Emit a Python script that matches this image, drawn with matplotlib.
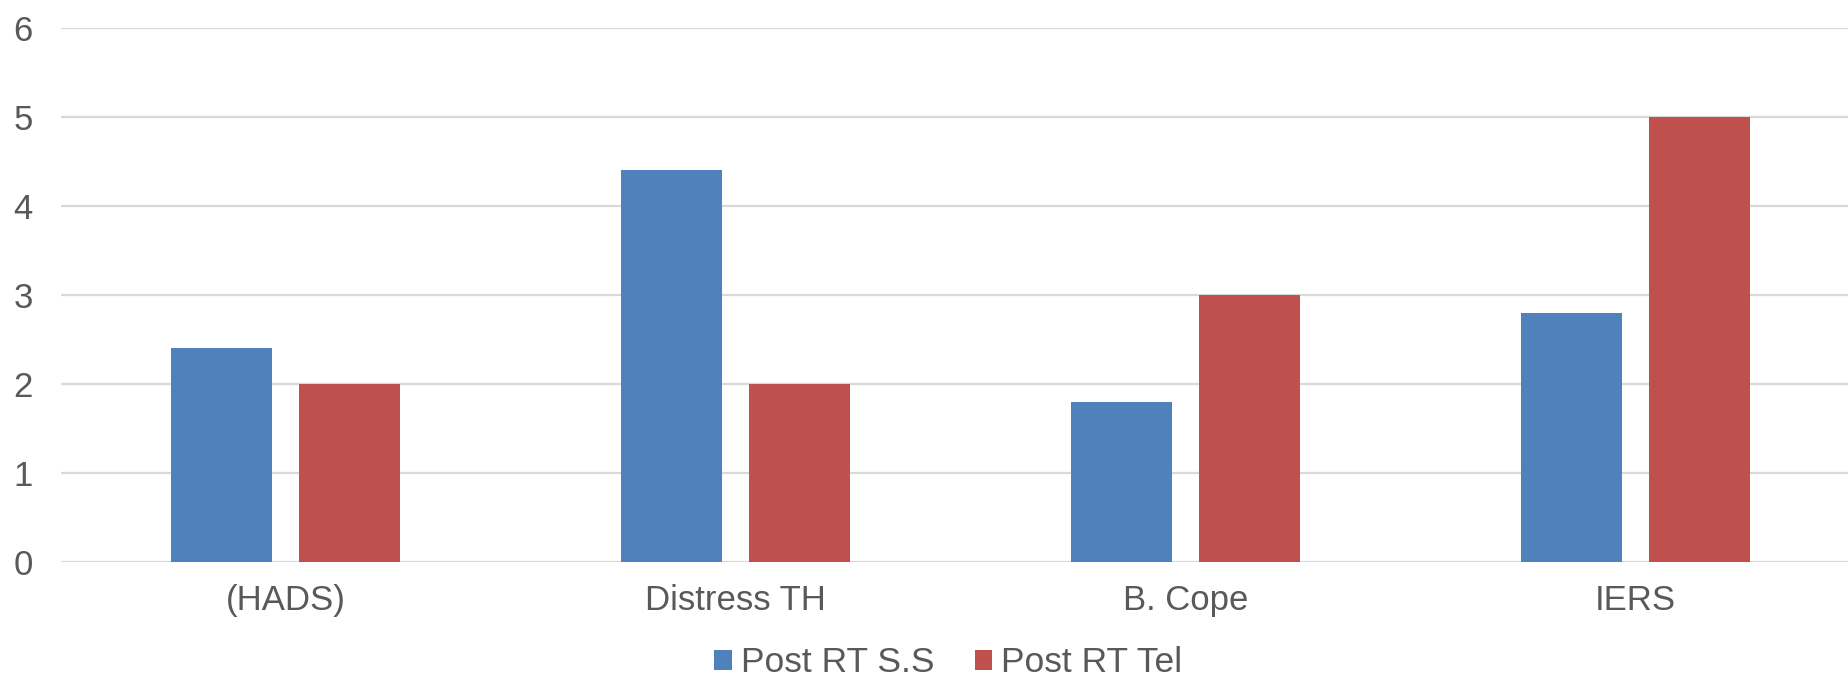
import numpy as np
import matplotlib.pyplot as plt

# Data
categories = ["(HADS)", "Distress TH", "B. Cope", "IERS"]
post_rt_ss = [2.4, 4.4, 1.8, 2.8]
post_rt_tel = [2.0, 2.0, 3.0, 5.0]
series_names = ["Post RT S.S", "Post RT Tel"]
y_ticks = [0, 1, 2, 3, 4, 5, 6]

blue = "#4F81BD"
red = "#C0504D"
text_col = "#595959"
grid_col = "#D9D9D9"

plt.rcParams['font.family'] = ['Liberation Sans', 'DejaVu Sans']

fig = plt.figure(figsize=(18.48, 6.78), dpi=100)
ax = fig.add_axes([60.5 / 1848, 116 / 678, 1800 / 1848, 534 / 678])

x = np.arange(len(categories))
w = 0.2244
off = 0.1422
ax.bar(x - off, post_rt_ss, w, color=blue, label=series_names[0], zorder=3)
ax.bar(x + off, post_rt_tel, w, color=red, label=series_names[1], zorder=3)

ax.set_xlim(-0.5, len(categories) - 0.5)
ax.set_ylim(0, 6)
ax.set_yticks(y_ticks)
ax.set_xticks(x)
ax.set_xticklabels(categories)

ax.yaxis.grid(True, color=grid_col, linewidth=1.6)
ax.set_axisbelow(True)
for s in ax.spines.values():
    s.set_visible(False)
ax.tick_params(axis='both', length=0, labelsize=25, colors=text_col)
ax.tick_params(axis='x', pad=16)
ax.tick_params(axis='y', pad=20)

fig.legend(loc='center', bbox_to_anchor=(948.5 / 1848, 15 / 678), ncol=2,
           frameon=False, labelcolor=text_col,
           handlelength=0.49, handleheight=0.49, handletextpad=0.26,
           columnspacing=1.14, borderpad=0,
           prop={'family': ['Liberation Sans', 'DejaVu Sans'], 'size': 25.5})

fig.savefig("out.png", dpi=100)
